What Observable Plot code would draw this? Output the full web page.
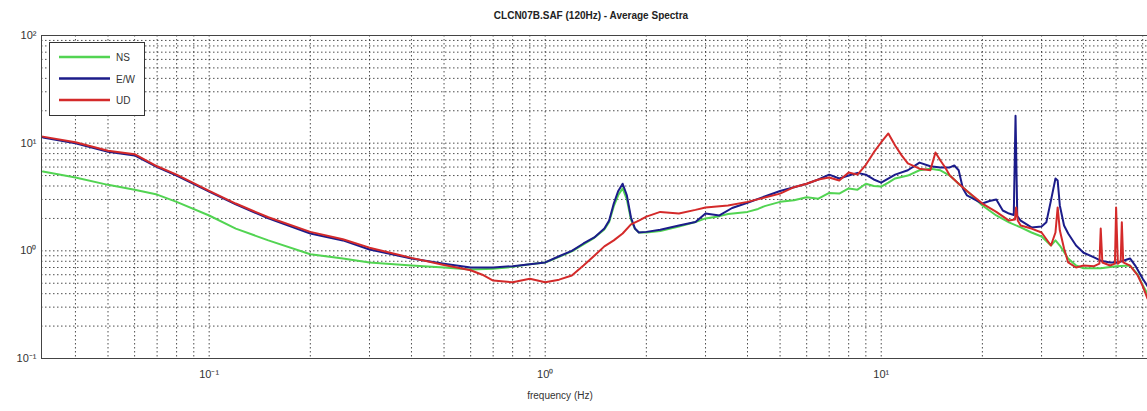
<!DOCTYPE html>
<html>
<head>
<meta charset="utf-8">
<script src="https://cdn.jsdelivr.net/npm/d3@7"></script>
<script src="https://cdn.jsdelivr.net/npm/@observablehq/plot@0.6"></script>
<style>
  body { margin: 0; background: #fff; font-family: "Liberation Sans", Arial, sans-serif; }
  #wrap { position: relative; width: 1147px; height: 411px; overflow: hidden; }
  #title { position: absolute; left: 0; width: 1182px; top: 10px; text-align: center; font-size: 10px; font-weight: bold; color: #222; }
  #chart { position: absolute; left: 0; top: 28px; }
  #xlabel { position: absolute; left: 0; width: 1120px; top: 390px; text-align: center; font-size: 10px; color: #333; }
  #legend { position: absolute; left: 49px; top: 42px; width: 94px; height: 72px; background: #fff; border: 1px solid #333; }
  #legend svg { position: absolute; left: 0; top: 0; }
</style>
</head>
<body>
<div id="wrap">
  <div id="title"></div>
  <div id="chart"></div>
  <div id="xlabel"></div>
  <div id="legend"></div>
</div>
<script>
const titleText = "CLCN07B.SAF (120Hz) - Average Spectra";
const xLabel = "frequency (Hz)";
const seriesNames = ["NS", "E/W", "UD"];
const seriesColors = ["#52d452", "#1c1c8a", "#d42a2a"];

const freqNS = [0.032,0.04,0.05,0.06,0.07,0.08,0.1,0.12,0.15,0.2,0.25,0.3,0.4,0.5,0.6,0.7,0.8,0.9,1.0,1.1,1.2,1.3,1.4,1.5,1.55,1.6,1.65,1.7,1.75,1.8,1.85,1.9,2.0,2.2,2.5,2.8,3.0,3.3,3.5,4,4.3,4.5,5,5.5,6,6.5,7,7.5,8,8.5,9,9.5,10,10.5,11,12,13,14,15,16,17,18,20,22,24,26,28,30,32,33,34,36,38,40,45,50,55,58,60,62];
const ampNS  = [5.45,4.8,4.1,3.7,3.33,2.85,2.13,1.61,1.25,0.93,0.85,0.78,0.73,0.70,0.67,0.68,0.71,0.75,0.78,0.88,0.99,1.15,1.32,1.58,1.85,2.6,3.3,3.8,3.0,1.95,1.6,1.48,1.48,1.53,1.68,1.85,2.0,2.1,2.2,2.3,2.45,2.6,2.85,2.95,3.15,3.05,3.45,3.4,3.8,3.7,4.2,4.0,3.95,4.3,4.7,5.0,5.6,5.8,5.6,5.0,4.2,3.6,2.64,2.13,1.84,1.65,1.48,1.36,1.12,1.25,1.12,0.85,0.73,0.69,0.69,0.72,0.73,0.6,0.48,0.4];

const freqEW = [0.032,0.04,0.05,0.06,0.07,0.08,0.1,0.12,0.15,0.2,0.25,0.3,0.4,0.5,0.6,0.7,0.8,0.9,1.0,1.1,1.2,1.3,1.4,1.5,1.55,1.6,1.65,1.7,1.75,1.8,1.85,1.9,2.0,2.2,2.5,2.8,3.0,3.3,3.6,4.0,4.5,5.0,5.5,6,6.5,7,7.5,8,8.5,9,9.5,10,11,12,13,14,15,16,16.5,17,17.5,18,20,21,22,23,24,24.8,25.1,25.4,26,28,30,31,32,33,33.5,34,35,36,38,40,43,45,48,50,52,55,57,60,62];
const ampEW  = [11.3,10.0,8.3,7.7,6.0,5.0,3.55,2.7,2.0,1.45,1.25,1.03,0.85,0.76,0.70,0.70,0.72,0.75,0.78,0.89,1.0,1.17,1.33,1.61,1.91,2.75,3.6,4.2,3.27,2.04,1.61,1.48,1.5,1.57,1.72,1.85,2.22,2.13,2.5,2.8,3.2,3.6,3.9,4.2,4.6,5.1,4.7,5.0,5.3,5.1,4.6,4.3,5.1,5.6,6.6,6.1,5.95,5.95,6.2,5.6,3.8,3.27,2.75,2.9,3.0,2.37,2.22,2.15,18,2.1,1.91,1.65,1.68,1.84,2.94,4.7,4.5,2.64,1.72,1.45,1.12,0.96,0.87,0.81,0.78,0.78,0.8,0.85,0.73,0.55,0.47];

const freqUD = [0.032,0.04,0.05,0.06,0.07,0.08,0.1,0.12,0.15,0.2,0.25,0.3,0.4,0.5,0.6,0.65,0.7,0.8,0.9,1.0,1.1,1.2,1.3,1.4,1.5,1.6,1.7,1.8,1.9,2.0,2.2,2.5,2.8,3.0,3.5,4,4.5,5,5.5,6,6.5,7,7.5,8,8.5,9,9.5,10,10.5,11,11.5,12,13,14,14.5,15,15.5,16,17,18,20,22,24,25,25.2,25.5,26,28,30,32,33,33.5,34,35,36,38,40,43,44.6,45,45.5,48,49.6,50,50.6,51.6,52,52.5,55,58,60,62];
const ampUD  = [11.5,10.2,8.5,7.9,6.1,5.1,3.6,2.75,2.05,1.5,1.28,1.07,0.86,0.74,0.66,0.6,0.53,0.51,0.55,0.51,0.54,0.59,0.73,0.9,1.1,1.25,1.45,1.76,1.91,2.08,2.3,2.22,2.4,2.53,2.64,2.85,3.13,3.4,3.9,4.2,4.6,4.8,4.5,5.35,5.1,6.3,8.2,10.2,12.3,9.5,7.7,6.5,5.8,5.6,8.2,6.9,5.95,5.0,4.2,3.6,2.75,2.3,1.91,1.95,2.53,1.9,1.72,1.61,1.48,1.12,1.48,2.53,1.55,1.05,0.78,0.7,0.73,0.72,0.76,1.61,0.78,0.73,0.76,2.53,0.76,0.8,1.84,0.78,0.73,0.59,0.47,0.36];

const xTicks = [0.1, 1, 10];
const xTickLabels = ["10\u207B\u00B9", "10\u2070", "10\u00B9"];
const yTicks = [0.1, 1, 10, 100];
const yTickLabels = ["10\u207B\u00B9", "10\u2070", "10\u00B9", "10\u00B2"];

// grid positions (log decades: 1..9 x 10^k)
const mant = [1,2,3,4,5,6,7,8,9];
const xGrid = [0.01,0.1,1,10].flatMap(d => mant.map(m => +(m*d).toPrecision(3))).filter(v => v > 0.0317 && v <= 62);
const yGrid = [0.1,1,10].flatMap(d => mant.map(m => +(m*d).toPrecision(3))).filter(v => v > 0.1 && v < 100);

const rows = [];
[[freqNS, ampNS], [freqEW, ampEW], [freqUD, ampUD]].forEach(([f, a], i) => {
  f.forEach((fv, j) => rows.push({series: seriesNames[i], f: fv, a: a[j]}));
});

document.getElementById("title").textContent = titleText;
document.getElementById("xlabel").textContent = xLabel;

const chart = Plot.plot({
  width: 1147,
  height: 383,
  marginLeft: 41,
  marginRight: 0,
  marginTop: 7,
  marginBottom: 53,
  style: {fontFamily: "Liberation Sans, Arial, sans-serif", fontSize: "11px", color: "#333", background: "#fff"},
  x: {type: "log", domain: [0.0317, 62], ticks: xTicks, tickFormat: d => xTickLabels[xTicks.indexOf(d)], tickSize: 0, tickPadding: 12, label: null},
  y: {type: "log", domain: [0.1, 100], ticks: yTicks, tickFormat: d => yTickLabels[yTicks.indexOf(d)], tickSize: 0, tickPadding: 5, label: null},
  color: {domain: seriesNames, range: seriesColors},
  marks: [
    Plot.ruleX(xGrid, {stroke: "#222", strokeWidth: 1, strokeDasharray: "1.5,2.5", strokeOpacity: 0.8}),
    Plot.ruleY(yGrid, {stroke: "#222", strokeWidth: 1, strokeDasharray: "1.5,2.5", strokeOpacity: 0.8}),
    Plot.line(rows, {x: "f", y: "a", z: "series", stroke: "series", strokeWidth: 2, curve: "linear"}),
    Plot.frame({stroke: "#444", strokeWidth: 1})
  ]
});
document.getElementById("chart").appendChild(chart);

// legend
const lg = d3.select("#legend").append("svg").attr("width", 94).attr("height", 72);
seriesNames.forEach((n, i) => {
  const y = 14 + i * 21.5;
  lg.append("line").attr("x1", 9).attr("x2", 60).attr("y1", y).attr("y2", y)
    .attr("stroke", seriesColors[i]).attr("stroke-width", 2.5);
  lg.append("text").attr("x", 66).attr("y", y + 4).attr("font-size", 10)
    .attr("font-family", "Liberation Sans, Arial, sans-serif").attr("fill", "#333").text(n);
});
</script>
</body>
</html>
